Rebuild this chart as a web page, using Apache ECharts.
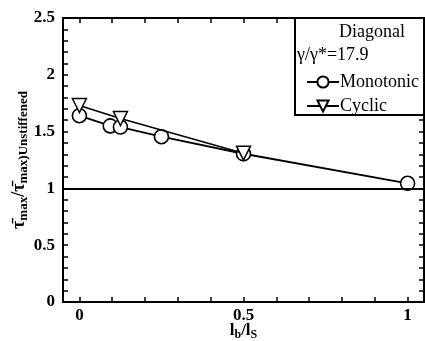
<!DOCTYPE html>
<html>
<head>
<meta charset="utf-8">
<script src="https://cdn.jsdelivr.net/npm/echarts@6/dist/echarts.min.js"></script>
<style>
  html, body { margin: 0; padding: 0; background: #fff; }
  #chart { width: 425px; height: 341px; }
</style>
</head>
<body>
<div id="chart"></div>
<script>
// Normalised length of the stiffener (lb/lS)
const monoX = [0, 0.094, 0.125, 0.25, 0.5, 1];
const monoY = [1.64, 1.55, 1.54, 1.455, 1.305, 1.045];
const cycX = [0, 0.125, 0.5];
const cycY = [1.73, 1.615, 1.31];
const xTicks = [0, 0.1, 0.2, 0.3, 0.4, 0.5, 0.6, 0.7, 0.8, 0.9, 1];
const xLabels = [0, 0.5, 1];
const seriesNames = ['Monotonic', 'Cyclic'];

const FONT = '"Liberation Serif", "DejaVu Serif", serif';
const pairs = (xs, ys) => xs.map((x, i) => [x, ys[i]]);

const chart = echarts.init(document.getElementById('chart'));
const axisLine = { show: true, onZero: false, lineStyle: { color: '#000', width: 2 } };
const tick = { show: true, inside: true, length: 5, lineStyle: { color: '#000', width: 1.5 } };

chart.setOption({
  animation: false,
  grid: { left: 63, right: 1, top: 18, bottom: 39, outerBoundsMode: 'none', containLabel: false },
  xAxis: [{
    type: 'value', min: -0.05, max: 1.05, position: 'bottom',
    axisLine: axisLine,
    axisTick: Object.assign({ customValues: xTicks }, tick),
    axisLabel: { customValues: xLabels, color: '#000', fontFamily: FONT, fontSize: 17, fontWeight: 'bold', margin: 5 },
    splitLine: { show: false },
    name: '{n|l}{s|b}{n|/l}{s|S}',
    nameLocation: 'middle', nameGap: 19, nameMoveOverlap: false,
    nameTextStyle: {
      rich: {
        n: { fontFamily: FONT, fontSize: 17, fontWeight: 'bold', color: '#000' },
        s: { fontFamily: FONT, fontSize: 12, fontWeight: 'bold', color: '#000', padding: [8, 0, 0, 0] }
      }
    }
  }, {
    type: 'value', min: -0.05, max: 1.05, position: 'top',
    axisLine: axisLine,
    axisTick: Object.assign({ customValues: xTicks }, tick),
    axisLabel: { show: false }, splitLine: { show: false }
  }],
  yAxis: [{
    type: 'value', min: 0, max: 2.5, interval: 0.5, position: 'left',
    axisLine: axisLine,
    axisTick: tick,
    minorTick: { show: true, splitNumber: 5, length: 5, lineStyle: { color: '#000', width: 1.5 } },
    axisLabel: { color: '#000', fontFamily: FONT, fontSize: 17, fontWeight: 'bold', margin: 8 },
    splitLine: { show: false },
    name: '{n|τ\u0304}{s|max}{n|/τ\u0304}{s|max)Unstiffened}',
    nameLocation: 'middle', nameRotate: 90, nameGap: 33, nameMoveOverlap: false,
    nameTextStyle: {
      rich: {
        n: { fontFamily: FONT, fontSize: 18, fontWeight: 'bold', color: '#000' },
        s: { fontFamily: FONT, fontSize: 13, fontWeight: 'bold', color: '#000', padding: [8, 0, 0, 0] }
      }
    }
  }, {
    type: 'value', min: 0, max: 2.5, interval: 0.5, position: 'right',
    axisLine: axisLine,
    axisTick: tick,
    minorTick: { show: true, splitNumber: 5, length: 5, lineStyle: { color: '#000', width: 1.5 } },
    axisLabel: { show: false }, splitLine: { show: false }
  }],
  legend: {
    orient: 'vertical', left: 301, top: 68, itemGap: 6,
    itemWidth: 32, itemHeight: 14,
    data: seriesNames,
    textStyle: { fontFamily: FONT, fontSize: 18, color: '#000', padding: [0, 0, 0, -4] }
  },
  graphic: [
    { type: 'rect', shape: { x: 295, y: 18, width: 129, height: 97 }, style: { fill: '#fff', stroke: '#000', lineWidth: 2 }, z: 1 },
    { type: 'text', x: 405, y: 32, style: { text: 'Diagonal', font: '18px ' + FONT, fill: '#000', textAlign: 'right', textVerticalAlign: 'middle' }, z: 2 },
    { type: 'text', x: 297, y: 55, style: { text: 'γ/γ*=17.9', font: '18px ' + FONT, fill: '#000', textAlign: 'left', textVerticalAlign: 'middle' }, z: 2 }
  ],
  series: [{
    name: seriesNames[0], type: 'line', data: pairs(monoX, monoY),
    symbol: 'circle', symbolSize: 14,
    lineStyle: { color: '#000', width: 1.8 },
    itemStyle: { color: '#fff', borderColor: '#000', borderWidth: 1.6 },
    z: 3,
    markLine: {
      silent: true, symbol: 'none', label: { show: false },
      lineStyle: { color: '#000', width: 1.8, type: 'solid' },
      data: [{ yAxis: 1 }]
    }
  }, {
    name: seriesNames[1], type: 'line', data: pairs(cycX, cycY),
    symbol: 'triangle', symbolRotate: 180, symbolSize: 14,
    lineStyle: { color: '#000', width: 1.5 },
    itemStyle: { color: '#fff', borderColor: '#000', borderWidth: 1.5 },
    z: 4
  }]
});
</script>
</body>
</html>
